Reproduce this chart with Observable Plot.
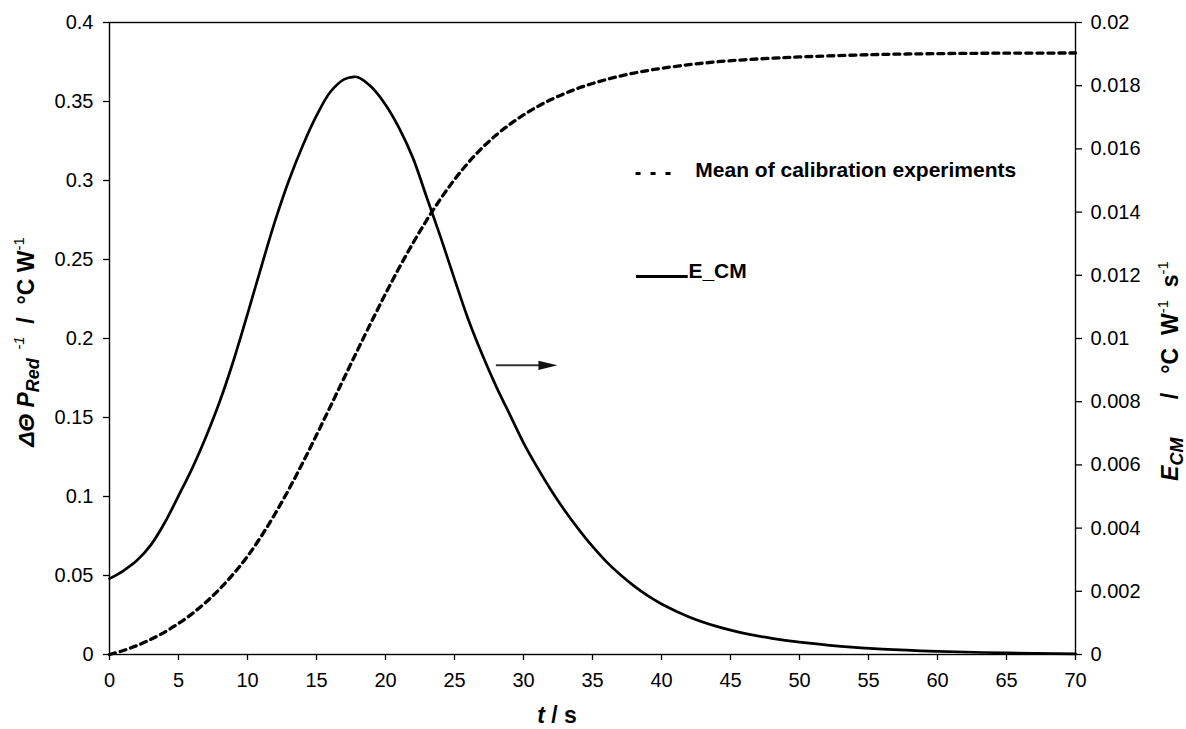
<!DOCTYPE html>
<html>
<head>
<meta charset="utf-8">
<script src="https://cdn.jsdelivr.net/npm/d3@7"></script>
<script src="https://cdn.jsdelivr.net/npm/@observablehq/plot@0.6"></script>
<style>
  html, body { margin: 0; padding: 0; background: #fff; }
  svg { display: block; }
</style>
</head>
<body>
<div id="chart"></div>
<script>
// ---- data ----
const tCal = [0,1,2,3,4,5,6,7,8,9,10,11,12,13,14,15,16,17,18,19,20,21,22,23,24,25,26,27,28,29,30,31,32,33,34,35,36,37,38,39,40,42,44,46,48,50,55,60,65,70];
const meanCal = [0,0.0025,0.0057,0.0096,0.0142,0.0196,0.0259,0.0332,0.0416,0.0512,0.0621,0.0749,0.0891,0.1046,0.1213,0.1389,0.1569,0.1750,0.1931,0.2109,0.2283,0.2449,0.2605,0.2751,0.2885,0.3006,0.3113,0.3206,0.3286,0.3355,0.3415,0.3467,0.3512,0.3551,0.3585,0.3614,0.3639,0.3661,0.3680,0.3696,0.3710,0.3733,0.3751,0.3764,0.3774,0.3782,0.3796,0.3803,0.3806,0.3807];

const tE = [0,1,2,3,4,5,6,7,8,9,10,11,12,13,14,15,16,17,17.7,18,19,20,21,22,23,24,25,26,27,28,29,30,31,32,33,34,35,36,37,38,39,40,42,44,46,48,50,53,56,60,65,70];
const eCM = [0.0024,0.00265,0.00298,0.00347,0.00417,0.00502,0.0059,0.0069,0.00802,0.00932,0.01077,0.01227,0.01372,0.0150,0.0161,0.01705,0.0178,0.0182,0.01828,0.01827,0.01795,0.0174,0.01665,0.0157,0.01445,0.0132,0.01188,0.0106,0.0095,0.0085,0.0076,0.0067,0.00592,0.0052,0.00455,0.00396,0.00342,0.00294,0.00253,0.00217,0.00186,0.0016,0.00119,0.00089,0.00067,0.00051,0.00039,0.00026,0.00017,0.0001,0.00005,0.00002];

const xTicks = [0,5,10,15,20,25,30,35,40,45,50,55,60,65,70];
const yLeftTicks = [0,0.05,0.1,0.15,0.2,0.25,0.3,0.35,0.4];
const yRightTicks = [0,0.002,0.004,0.006,0.008,0.01,0.012,0.014,0.016,0.018,0.02];
const rightFactor = 20; // right axis 0..0.02 mapped onto left axis 0..0.4

const legendLabels = ["Mean of calibration experiments", "E_CM"];

// ---- tables ----
const calRows = tCal.map((t, i) => ({t, v: meanCal[i]}));
const eRows = tE.map((t, i) => ({t, v: eCM[i] * rightFactor}));
const arrowRow = [{x1: 28.0, x2: 31.2, tip: 32.46, y: 0.183}];
const legendDash = [{x1: 38.12, x2: 40.66, y: 0.3044, lx: 42.45, ly: 0.3063, label: legendLabels[0]}];
const legendSolid = [{x1: 38.15, x2: 41.9, y: 0.2392, lx: 41.95, ly: 0.2424, label: legendLabels[1]}];

const arrowHead = {
  draw(ctx) {
    ctx.moveTo(0, 0);
    ctx.lineTo(-19, -4.6);
    ctx.lineTo(-19, 4.6);
    ctx.closePath();
  }
};

const FONT = "'Liberation Sans', Arial, Helvetica, sans-serif";

const svg = Plot.plot({
  width: 1186,
  height: 729,
  marginLeft: 109,
  marginRight: 111,
  marginTop: 22,
  marginBottom: 75,
  style: {fontFamily: FONT, fontSize: "20px", color: "#000", background: "#fff", overflow: "visible"},
  x: {domain: [0, 70]},
  y: {domain: [0, 0.4]},
  marks: [
    Plot.frame({stroke: "#000", strokeWidth: 1.4}),
    Plot.axisX(xTicks, {anchor: "bottom", tickSize: 6, tickPadding: 12, label: null, strokeWidth: 1.3, fontSize: 20, tickFormat: d => String(d)}),
    Plot.axisY(yLeftTicks, {anchor: "left", tickSize: 6, tickPadding: 10, label: null, strokeWidth: 1.3, fontSize: 20, tickFormat: d => String(+d.toFixed(3))}),
    Plot.axisY(yRightTicks.map(v => v * rightFactor), {anchor: "right", tickSize: 6, tickPadding: 9, label: null, strokeWidth: 1.3, fontSize: 20, tickFormat: d => String(+(d / rightFactor).toFixed(4))}),
    Plot.line(calRows, {x: "t", y: "v", stroke: "#000", strokeWidth: 3.3, strokeDasharray: "6,5", curve: "catmull-rom"}),
    Plot.line(eRows, {x: "t", y: "v", stroke: "#000", strokeWidth: 2.7, curve: "catmull-rom"}),
    Plot.link(arrowRow, {x1: "x1", x2: "x2", y1: "y", y2: "y", stroke: "#333", strokeWidth: 2}),
    Plot.dot(arrowRow, {x: "tip", y: "y", symbol: arrowHead, fill: "#111", stroke: "none"}),
    Plot.link(legendDash, {x1: "x1", x2: "x2", y1: "y", y2: "y", stroke: "#000", strokeWidth: 3, strokeDasharray: "5,10"}),
    Plot.text(legendDash, {x: "lx", y: "ly", text: "label", textAnchor: "start", fontWeight: "bold", fontSize: 21}),
    Plot.link(legendSolid, {x1: "x1", x2: "x2", y1: "y", y2: "y", stroke: "#000", strokeWidth: 3}),
    Plot.text(legendSolid, {x: "lx", y: "ly", text: "label", textAnchor: "start", fontWeight: "bold", fontSize: 21})
  ]
});

const root = d3.select(svg);

// left y label
const lt = root.append("text")
  .attr("transform", "translate(34,342) rotate(-90)")
  .attr("text-anchor", "middle")
  .attr("font-family", FONT).attr("font-size", 23).attr("font-weight", "bold").attr("fill", "#000")
  .style("white-space", "pre");
lt.append("tspan").attr("font-style", "italic").text("ΔΘ P");
lt.append("tspan").attr("font-style", "italic").attr("font-size", 18).attr("dy", 5).text("Red");
lt.append("tspan").attr("font-style", "italic").attr("font-size", 15).attr("font-weight", "normal").attr("dy", -15).text("  -1");
lt.append("tspan").attr("dy", 10).text("  /  °C W");
lt.append("tspan").attr("font-size", 15).attr("font-weight", "normal").attr("dy", -10).text("-1");

// right y label
const rt = root.append("text")
  .attr("transform", "translate(1178,371) rotate(-90)")
  .attr("text-anchor", "middle")
  .attr("font-family", FONT).attr("font-size", 23).attr("font-weight", "bold").attr("fill", "#000")
  .style("white-space", "pre");
rt.append("tspan").attr("font-style", "italic").text("E");
rt.append("tspan").attr("font-style", "italic").attr("font-size", 18).attr("dy", 5).text("CM");
rt.append("tspan").attr("dy", -5).text("      /   °C  W");
rt.append("tspan").attr("font-size", 15).attr("font-weight", "normal").attr("dy", -10).text("-1");
rt.append("tspan").attr("dy", 10).text("  s");
rt.append("tspan").attr("font-size", 15).attr("font-weight", "normal").attr("dy", -10).text("-1");

// x label
const xt = root.append("text")
  .attr("x", 557).attr("y", 723)
  .attr("text-anchor", "middle")
  .attr("font-family", FONT).attr("font-size", 23).attr("font-weight", "bold").attr("fill", "#000")
  .style("white-space", "pre");
xt.append("tspan").attr("font-style", "italic").text("t");
xt.append("tspan").text(" / s");

document.getElementById("chart").appendChild(svg);
</script>
</body>
</html>
